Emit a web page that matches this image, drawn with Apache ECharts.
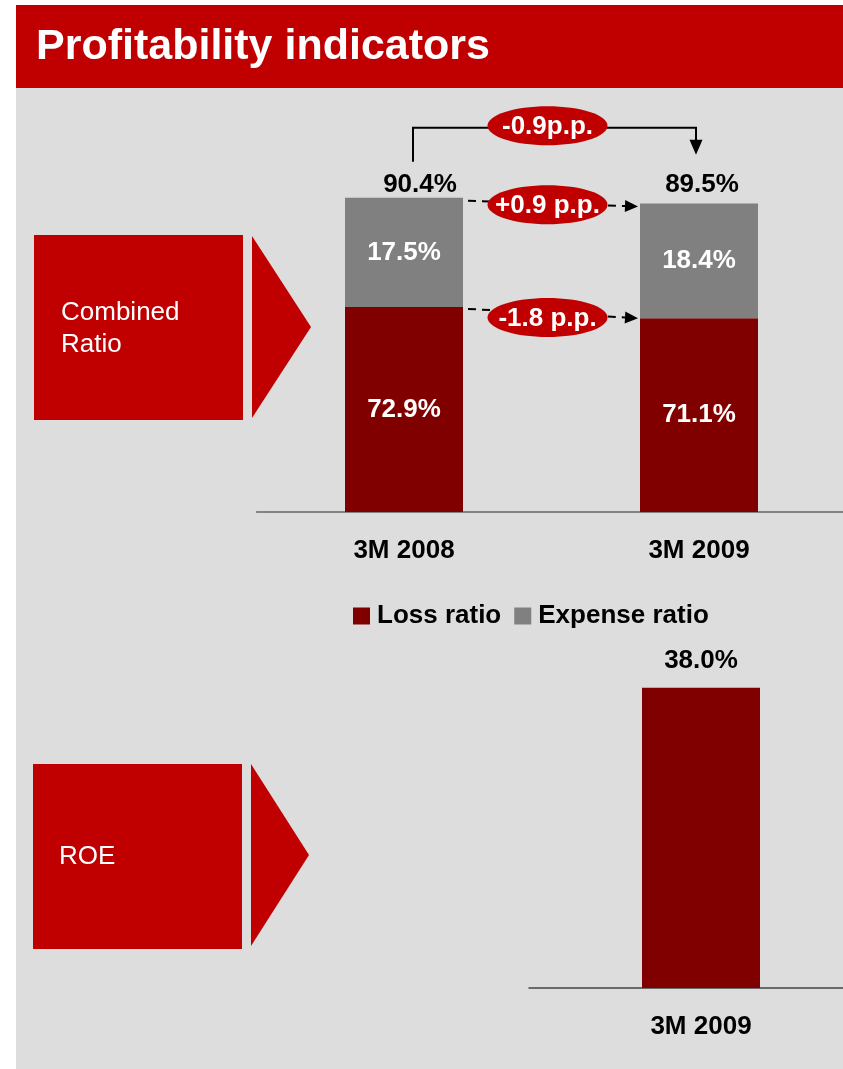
<!DOCTYPE html>
<html>
<head>
<meta charset="utf-8">
<style>
  html, body { margin: 0; padding: 0; background: #ffffff; overflow: hidden; }
  #chart { width: 900px; height: 1069px; }
</style>
<script src="https://cdn.jsdelivr.net/npm/echarts@6/dist/echarts.min.js"></script>
</head>
<body>
<div id="chart"></div>
<script>
// ---- data ----
const categories = ['3M 2008', '3M 2009'];
const lossRatio = [72.9, 71.1];
const expenseRatio = [17.5, 18.4];
const combinedRatio = [90.4, 89.5];
const roeCategories = ['3M 2009'];
const roeValues = [38.0];
const changeLabels = ['-0.9p.p.', '+0.9 p.p.', '-1.8 p.p.'];
const seriesNames = ['Loss ratio', 'Expense ratio', 'ROE'];
const titleText = 'Profitability indicators';
const sectionLabels = ['Combined\nRatio', 'ROE'];

// ---- style ----
const RED = '#C00000';
const DARK = '#800000';
const GREY = '#808080';
const BG = '#DDDDDD';
const FONT = "'Liberation Sans', Arial, Helvetica, sans-serif";
const BAR_W = 118;

const pct = v => v.toFixed(1) + '%';

const chart = echarts.init(document.getElementById('chart'), null, { renderer: 'canvas' });

const baseOption = {
  backgroundColor: '#ffffff',
  animation: false,
  textStyle: { fontFamily: FONT },
  legend: {
    data: [seriesNames[0], seriesNames[1]],
    left: 348, top: 598,
    itemWidth: 17, itemHeight: 17, itemGap: 13,
    icon: 'rect',
    textStyle: { fontFamily: FONT, fontWeight: 'bold', fontSize: 26, color: '#000', padding: [0, 0, 0, 2] }
  },
  grid: [
    { left: 256.5, top: 138, width: 590, height: 374, containLabel: false },
    { left: 529, top: 593, width: 344, height: 395, containLabel: false }
  ],
  xAxis: [
    {
      type: 'category', gridIndex: 0, data: categories,
      axisLine: { lineStyle: { color: '#666', width: 1.5 } },
      axisTick: { show: false },
      axisLabel: { margin: 26, fontFamily: FONT, fontWeight: 'bold', fontSize: 26, color: '#000' }
    },
    {
      type: 'category', gridIndex: 1, data: roeCategories,
      axisLine: { lineStyle: { color: '#444', width: 1.5 } },
      axisTick: { show: false },
      axisLabel: { margin: 26, fontFamily: FONT, fontWeight: 'bold', fontSize: 26, color: '#000' }
    }
  ],
  yAxis: [
    { type: 'value', gridIndex: 0, min: 40, max: 100, interval: 20, show: false, splitLine: { show: false } },
    { type: 'value', gridIndex: 1, min: 0, max: 50, interval: 10, show: false, splitLine: { show: false } }
  ],
  series: [
    {
      name: seriesNames[0], type: 'bar', stack: 'cr', xAxisIndex: 0, yAxisIndex: 0,
      data: lossRatio, barWidth: BAR_W,
      itemStyle: { color: DARK },
      label: { show: true, position: 'inside', color: '#fff', fontFamily: FONT, fontWeight: 'bold', fontSize: 26,
               formatter: p => pct(p.value) }
    },
    {
      name: seriesNames[1], type: 'bar', stack: 'cr', xAxisIndex: 0, yAxisIndex: 0,
      data: expenseRatio, barWidth: BAR_W,
      itemStyle: { color: GREY },
      label: { show: true, position: 'inside', color: '#fff', fontFamily: FONT, fontWeight: 'bold', fontSize: 26,
               formatter: p => pct(p.value) },
      markPoint: {
        symbol: 'rect', symbolSize: 0, silent: true,
        label: { show: true, position: 'inside', color: '#000', fontFamily: FONT, fontWeight: 'bold', fontSize: 26,
                 formatter: p => pct(p.value) },
        data: combinedRatio.map((v, i) => ({
          coord: [categories[i], v], value: v,
          label: { offset: i === 0 ? [16, -13] : [3, -19] }
        }))
      }
    },
    {
      name: seriesNames[2], type: 'bar', xAxisIndex: 1, yAxisIndex: 1,
      data: roeValues, barWidth: BAR_W,
      itemStyle: { color: DARK },
      label: { show: true, position: 'top', distance: 14, color: '#000', fontFamily: FONT, fontWeight: 'bold', fontSize: 26,
               formatter: p => pct(p.value) }
    }
  ]
};

chart.setOption(baseOption);

// ---- annotations derived from the axes ----
const px = (i, v) => chart.convertToPixel({ xAxisIndex: 0, yAxisIndex: 0 }, [categories[i], v]);
const p1T = px(0, combinedRatio[0]);
const p2T = px(1, combinedRatio[1]);
const p1L = px(0, lossRatio[0]);
const p2L = px(1, lossRatio[1]);
const half = BAR_W / 2;
const midX = (p1T[0] + half + p2T[0] - half) / 2 - 4;
const labelY = Math.min(p1T[1], p2T[1]) - 15;

function arrowHead(tip, from, len, hw) {
  const dx = tip[0] - from[0], dy = tip[1] - from[1];
  const d = Math.sqrt(dx * dx + dy * dy);
  const ux = dx / d, uy = dy / d;
  const bx = tip[0] - ux * len, by = tip[1] - uy * len;
  return {
    type: 'polygon', z: 20,
    shape: { points: [tip, [bx - uy * hw, by + ux * hw], [bx + uy * hw, by - ux * hw]] },
    style: { fill: '#000' }
  };
}
function dashedArrow(a, b) {
  const len = 13;
  const dx = b[0] - a[0], dy = b[1] - a[1];
  const d = Math.sqrt(dx * dx + dy * dy);
  const end = [b[0] - dx / d * len, b[1] - dy / d * len];
  return [
    { type: 'line', z: 20, shape: { x1: a[0], y1: a[1], x2: end[0], y2: end[1] },
      style: { stroke: '#000', lineWidth: 2, lineDash: [8, 6] } },
    arrowHead(b, a, len, 6)
  ];
}
function pill(cx, cy, text) {
  return [
    { type: 'ellipse', z: 30, shape: { cx: cx, cy: cy, rx: 60, ry: 19.5 }, style: { fill: RED } },
    { type: 'text', z: 31, x: cx, y: cy + 1,
      style: { text: text, fill: '#fff', font: 'bold 26px ' + FONT, textAlign: 'center', textVerticalAlign: 'middle' } }
  ];
}

const a1s = [p1T[0] + half + 5, p1T[1] + 3], a1e = [p2T[0] - half - 2, p2T[1] + 3];
const a2s = [p1L[0] + half + 5, p1L[1] + 2], a2e = [p2L[0] - half - 2, p2L[1]];

const bx1 = p1T[0] + 9, bx2 = p2T[0] - 3;
const bTop = labelY - 55, bStart = labelY - 21, bTip = labelY - 28;

const graphics = [
  // backgrounds
  { type: 'rect', z: -10, shape: { x: 16, y: 88, width: 900, height: 981 }, style: { fill: BG } },
  { type: 'rect', z: -10, shape: { x: 16, y: 5, width: 900, height: 83 }, style: { fill: RED } },
  { type: 'text', z: 5, x: 36, y: 47,
    style: { text: titleText, fill: '#fff', font: 'bold 43px ' + FONT, textVerticalAlign: 'middle' } },
  // section boxes
  { type: 'rect', z: 1, shape: { x: 34, y: 235, width: 209, height: 185 }, style: { fill: RED } },
  { type: 'polygon', z: 1, shape: { points: [[252, 236], [311, 327], [252, 418]] }, style: { fill: RED } },
  { type: 'text', z: 2, x: 61, y: 329,
    style: { text: sectionLabels[0], fill: '#fff', font: '26px ' + FONT, lineHeight: 32, textVerticalAlign: 'middle' } },
  { type: 'rect', z: 1, shape: { x: 33, y: 764, width: 209, height: 185 }, style: { fill: RED } },
  { type: 'polygon', z: 1, shape: { points: [[251, 764], [309, 855], [251, 946]] }, style: { fill: RED } },
  { type: 'text', z: 2, x: 59, y: 857,
    style: { text: sectionLabels[1], fill: '#fff', font: '26px ' + FONT, textVerticalAlign: 'middle' } },
  // bracket arrow
  { type: 'polyline', z: 20, shape: { points: [[bx1, bStart], [bx1, bTop], [bx2, bTop], [bx2, bTip - 14]] },
    style: { stroke: '#000', lineWidth: 2, fill: null } },
  arrowHead([bx2, bTip], [bx2, bTop], 15, 6.5),
  ...dashedArrow(a1s, a1e),
  ...dashedArrow(a2s, a2e),
  ...pill(midX, bTop - 2, changeLabels[0]),
  ...pill(midX, (a1s[1] + a1e[1]) / 2 + 1, changeLabels[1]),
  ...pill(midX, (a2s[1] + a2e[1]) / 2 + 4, changeLabels[2])
];

chart.setOption({ graphic: graphics });
</script>
</body>
</html>
